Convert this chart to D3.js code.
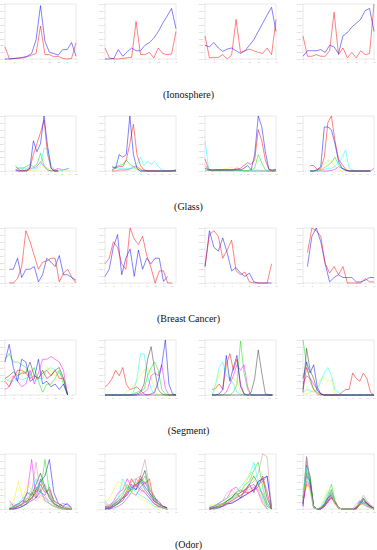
<!DOCTYPE html>
<html>
<head>
<meta charset="utf-8">
<script src="https://cdn.jsdelivr.net/npm/d3@7"></script>
<style>
  body { margin: 0; background: #fff; }
  svg { display: block; }
</style>
</head>
<body>
<svg id="fig" width="377" height="550"></svg>
<script>
const captions = ["(Ionosphere)", "(Glass)", "(Breast Cancer)", "(Segment)", "(Odor)"]
const yTicks = [0, 0.125, 0.25, 0.375, 0.5, 0.625, 0.75, 0.875, 1]

// ---- Ionosphere: 4 panels, 2 classes
const ionoRed = [
  [0.22, 0.0, 0.01, 0.01, 0.02, 0.04, 0.07, 0.1, 0.6, 0.08, 0.08, 0.04, 0.05, 0.01, 0.0, 0.01, 0.3],
  [0.2, 0.02, 0.0, 0.0, 0.01, 0.02, 0.03, 0.68, 0.08, 0.08, 0.12, 0.02, 0.2, 0.1, 0.08, 0.09, 0.5],
  [0.42, 0.02, 0.03, 0.03, 0.08, 0.0, 0.07, 0.72, 0.12, 0.15, 0.18, 0.15, 0.12, 0.1, 0.2, 0.08, 0.72],
  [0.42, 0.05, 0.05, 0.08, 0.05, 0.05, 0.15, 0.85, 0.08, 0.2, 0.02, 0.12, 0.02, 0.15, 0.08, 0.1, 1.0]
]
const ionoBlue = [
  [0, 0, 0.01, 0.02, 0.03, 0.05, 0.1, 0.35, 0.97, 0.32, 0.12, 0.1, 0.07, 0.17, 0.17, 0.3, 0.05],
  [0, 0, 0.01, 0.17, 0.05, 0.13, 0.2, 0.15, 0.15, 0.25, 0.3, 0.38, 0.5, 0.65, 0.78, 0.92, 0.55],
  [0.25, 0.22, 0.3, 0.2, 0.14, 0.18, 0.2, 0.15, 0.1, 0.15, 0.25, 0.35, 0.5, 0.65, 0.8, 0.94, 0.5],
  [0.05, 0.15, 0.15, 0.15, 0.17, 0.12, 0.25, 0.22, 0.1, 0.42, 0.48, 0.58, 0.65, 0.72, 0.88, 0.92, 0.5]
]

// ---- Glass: 6 classes
const glassBlue = [
  [null, null, null, 0.02, 0, 0, 0, 0.05, 0.55, 0.35, 0.5, 1.0, 0.45, 0.05, 0, 0, null, null, null, null, null],
  [null, null, 0.08, 0.05, 0.3, 0.25, 0.3, 1.0, 0.3, 0.05, 0, 0, 0, 0, 0, 0, 0, 0, 0, 0, 0.02],
  [0.05, 0.02, 0.02, 0.02, 0.02, 0.02, 0.02, 0.02, 0.02, 0.02, 0.02, 0.05, 0.1, 0.02, 0.3, 1.0, 0.8, 0.35, 0.03, 0.02, 0.03],
  [null, null, 0, 0, 0.02, 0.08, 0.8, 0.8, 0.75, 0.5, 0.18, 0.05, 0.01, 0, 0, 0, 0, 0, 0, 0, null]
]
const glassRed = [
  [null, null, null, 0.08, 0.02, 0, 0.02, 0.05, 0.3, 0.5, 0.7, 0.92, 0.3, 0.05, 0, 0, null, null, null, null, null],
  [null, null, 0.02, 0.06, 0.08, 0.08, 0.2, 0.5, 0.85, 0.3, 0.1, 0.02, 0, 0, 0, 0, 0, 0, 0, 0, 0],
  [0.22, 0.03, 0.02, 0.02, 0.02, 0.02, 0.02, 0.02, 0.02, 0.03, 0.05, 0.1, 0.15, 0.12, 0.2, 0.75, 0.55, 0.2, 0.03, 0, 0.02],
  [null, null, 0.1, 0.1, 0.03, 0.05, 0.25, 0.88, 1.0, 0.55, 0.22, 0.12, 0.03, 0, 0, 0, 0, 0, 0, 0, null]
]
const glassGreen = [
  [null, null, null, 0.02, 0.06, 0.05, 0.08, 0.12, 0.08, 0.12, 0.32, 0.1, 0.02, 0, 0, 0, null, null, null, null, null],
  [null, null, 0.05, 0.08, 0.1, 0.12, 0.2, 0.12, 0.08, 0.03, 0, 0, 0, 0, 0, 0, 0, 0, 0, 0, 0],
  [0.01, 0.01, 0.01, 0.01, 0.01, 0.01, 0.01, 0.01, 0.01, 0.01, 0.01, 0.01, 0.01, 0.02, 0.05, 0.3, 0.15, 0.02, 0, 0, 0],
  [null, null, 0, 0, 0.02, 0.02, 0.06, 0.1, 0.15, 0.25, 0.12, 0.05, 0.02, 0, 0, 0, 0, 0, 0, 0, null]
]
const glassCyan = [
  [null, null, null, 0.1, 0.04, 0.06, 0.04, 0.08, 0.04, 0.05, 0.1, 0.42, 0.4, 0.1, 0.02, 0.02, 0.01, 0.03, 0.05, null, null],
  [null, null, 0, 0.05, 0.05, 0.04, 0.05, 0.04, 0.05, 0.12, 0.25, 0.1, 0.18, 0.12, 0.18, 0.08, 0.02, 0, 0, 0, 0],
  [0.55, 0.05, 0, 0, 0, 0, 0, 0, 0, 0, 0, 0, 0, 0, 0.01, 0.02, 0, 0, 0, 0, 0],
  [null, null, 0, 0, 0.02, 0.02, 0.03, 0.05, 0.05, 0.08, 0.15, 0.25, 0.38, 0.05, 0.02, 0, 0, 0, 0, 0, null]
]
const glassMagenta = [
  [null, null, null, 0, 0, 0.02, 0, 0.03, 0.06, 0.08, 0.17, 0.08, 0.02, 0, 0.02, 0.05, 0.02, 0.03, 0.05, null, null],
  [null, null, 0, 0, 0.02, 0.02, 0.02, 0.04, 0.08, 0.08, 0.03, 0, 0, 0, 0, 0, 0, 0, 0, 0, 0],
  [0.1, 0.02, 0, 0.02, 0.02, 0.02, 0.02, 0.02, 0.02, 0.06, 0.02, 0, 0, 0, 0, 0, 0, 0, 0, 0, 0],
  [null, null, 0, 0, 0, 0, 0, 0, 0.01, 0.03, 0.08, 0.05, 0.02, 0, 0, 0, 0, 0, 0, 0, 0.05]
]
const glassYellow = [
  [null, null, null, 0, 0, 0, 0, 0.01, 0.02, 0.02, 0.06, 0.1, 0.05, 0.02, 0, 0, 0, 0, 0, null, null],
  [null, null, 0, 0, 0, 0, 0.02, 0.03, 0.05, 0.06, 0.04, 0.02, 0, 0, 0, 0, 0, 0.02, 0, 0.02, 0.02],
  [0.02, 0.01, 0.01, 0.01, 0.02, 0.03, 0.04, 0.06, 0.05, 0.02, 0, 0, 0, 0, 0, 0, 0, 0, 0, 0, 0],
  [null, null, 0, 0, 0, 0.05, 0.12, 0.2, 0.18, 0.08, 0.03, 0, 0, 0, 0, 0, 0, 0, 0, 0, null]
]

// ---- Breast Cancer: 2 classes
const bcRed = [
  [null, 0, 0, 0.08, 0.3, 0.95, 0.75, 0.5, 0.25, 0.38, 0.4, 0.45, 0.45, 0.02, 0.18, 0.25, 0.1, 0],
  [0.35, 0.45, 0.75, 0.65, 0.35, 0.25, 1.0, 0.8, 0.7, 0.85, 0.5, 0.28, 0, 0.22, 0.22, 0, 0, null],
  [0.3, 0.88, 0.95, 0.85, 0.45, 0.6, 0.78, 0.22, 0.15, 0.2, 0.02, 0, 0, 0, 0, 0.35, null],
  [null, 0.55, 1.0, 0.95, 0.85, 0.35, 0.18, 0.3, 0.15, 0.3, 0, 0, 0, 0, 0.08, 0.02, 0.02]
]
const bcBlue = [
  [null, 0.25, 0.25, 0.45, 0.1, 0.25, 0.25, 0.3, 0.02, 0.15, 0.45, 0.38, 0.3, 0.5, 0.15, 0.15, 0.1, 0.05],
  [0.12, 0.25, 0.65, 0.88, 0.15, 0.45, 0.62, 0.12, 0.6, 0.25, 0.45, 0.35, 0.45, 0.45, 0.03, 0.12, null, null],
  [0.3, 0.95, 0.65, 0.58, 0.82, 0.55, 0.22, 0.28, 0.18, 0.12, 0.18, 0.02, 0, 0, 0, 0, null],
  [null, 0.3, 0.85, 1.0, 0.75, 0.35, 0.02, 0.1, 0.15, 0.1, 0.1, 0.1, 0.02, 0.02, 0.05, 0.1, 0.1]
]

// ---- Segment: 7 classes
const segRed = [
  [0.25, 0.15, 0.3, 0.45, 0.45, 0.4, 0.3, 0.35, 0.3, 0.4, 0.45, 0.35, 0.45, 0.3, 0.3, 0, null, null],
  [0.15, 0.2, 0.3, 0.45, 0.35, 0.5, 0.2, 0.1, 0.12, 0.15, 0.08, 0.02, 0, 0, 0, 0, 0, 0, 0, 0, 0],
  [null, null, 0.1, 0.12, 0.2, 0.1, 0.55, 0.75, 0.45, 0.65, 0.2, 0.02, 0, 0, 0, 0, 0, 0, 0, 0, null],
  [0.1, 0.5, 0.3, 0.1, 0.02, 0, 0, 0, 0, 0, 0, 0.05, 0.1, 0.1, 0.4, 0.3, 0.25, 0.4, 0.3, 0.05, 0]
]
const segYellow = [
  [0.2, 0.3, 0.35, 0.4, 0.35, 0.45, 0.4, 0.3, 0.3, 0.35, 0.5, 0.45, 0.35, 0.4, 0.35, 0, null, null],
  [0, 0, 0, 0, 0, 0, 0.05, 0.1, 0.15, 0.25, 0.35, 0.45, 0.5, 0.3, 0.1, 0, 0, 0, 0, 0, 0],
  [null, null, 0, 0.1, 0.4, 0.45, 0.5, 0.3, 0.3, 0.25, 0.05, 0, 0, 0, 0, 0, 0, 0, 0, 0, null],
  [0.05, 0.02, 0.05, 0.1, 0.15, 0.3, 0.3, 0.25, 0.28, 0.02, 0, 0, 0, 0, 0, 0, 0, 0, 0, 0, 0]
]
const segCyan = [
  [0.3, 0.25, 0.25, 0.3, 0.28, 0.3, 0.35, 0.25, 0.3, 0.3, 0.45, 0.5, 0.45, 0.4, 0.3, 0, null, null],
  [0, 0, 0, 0, 0, 0, 0, 0, 0.05, 0.3, 0.75, 0.75, 0.35, 0.1, 0.02, 0, 0, 0, 0, 0, 0],
  [null, null, 0, 0.2, 0.5, 0.6, 0.35, 0.3, 0.2, 0.05, 0.02, 0, 0, 0, 0, 0, 0, 0, 0, 0, null],
  [0.05, 0.1, 0.08, 0.05, 0.1, 0.25, 0.4, 0.5, 0.35, 0.1, 0.05, 0, 0, 0, 0, 0, 0, 0, 0, 0, 0]
]
const segMagenta = [
  [0.1, 0.15, 0.35, 0.25, 0.15, 0.2, 0.45, 0.2, 0.4, 0.65, 0.65, 0.7, 0.65, 0.6, 0.45, 0, null, null],
  [0, 0, 0, 0, 0, 0, 0, 0, 0, 0, 0.02, 0.05, 0.1, 0.35, 0.4, 0.35, 0.55, 0.12, 0, 0, 0],
  [null, null, 0, 0, 0, 0, 0.05, 0.2, 0.35, 0.55, 0.45, 0.55, 0.15, 0, 0, 0, 0, 0, 0, 0, null],
  [0.2, 0.35, 0.3, 0.2, 0.1, 0.02, 0, 0, 0, 0, 0, 0, 0, 0, 0, 0, 0, 0, 0, 0, 0]
]
const segGreen = [
  [0.65, 0.75, 0.6, 0.6, 0.55, 0.5, 0.35, 0.5, 0.25, 0.05, 0.2, 0.2, 0.3, 0.45, 0.2, 0, null, null],
  [0, 0, 0, 0, 0, 0, 0, 0, 0.02, 0.05, 0.08, 0.1, 0.35, 0.5, 0.6, 0.45, 0.1, 0.02, 0, 0, 0],
  [null, null, 0, 0, 0, 0, 0, 0, 0.05, 0.2, 0.98, 0.4, 0.1, 0, 0, 0, 0, 0, 0, 0, null],
  [1.0, 0.55, 0.25, 0.1, 0.05, 0.02, 0, 0, 0, 0, 0, 0, 0, 0, 0, 0, 0, 0, 0, 0, 0]
]
const segBlue = [
  [0.6, 0.92, 0.5, 0.25, 0.65, 0.6, 0.25, 0.3, 0.65, 0.2, 0.25, 0.15, 0.2, 0.1, 0.2, 0, null, null],
  [0, 0, 0, 0, 0, 0, 0, 0, 0, 0, 0, 0, 0, 0.02, 0.05, 0.25, 0.55, 1.0, 0.2, 0.02, 0],
  [null, null, 0, 0, 0.02, 0.1, 0.72, 0.25, 0.5, 0.72, 0.15, 0.02, 0, 0, 0, 0, 0, 0, 0, 0, null],
  [0.3, 0.6, 0.4, 0.55, 0.15, 0.02, 0, 0, 0, 0, 0, 0, 0, 0, 0, 0, 0, 0, 0, 0, 0]
]
const segBlack = [
  [0.3, 0.35, 0.42, 0.35, 0.4, 0.4, 0.6, 0.35, 0.3, 0.45, 0.3, 0.35, 0.45, 0.5, 0.3, 0, null, null],
  [0, 0, 0, 0, 0, 0, 0, 0, 0, 0.02, 0.05, 0.2, 0.65, 0.88, 0.45, 0.1, 0.02, 0, 0, 0, 0],
  [null, null, 0, 0, 0, 0, 0, 0, 0, 0, 0, 0, 0, 0.05, 0.3, 0.82, 0.4, 0.02, 0, 0, null],
  [0.05, 0.85, 0.45, 0.3, 0.08, 0.02, 0, 0, 0, 0, 0, 0, 0, 0, 0, 0, 0, 0, 0, 0, 0]
]

// ---- Odor: 12 classes
const odorYellow = [
  [null, 0.05, 0.15, 0.5, 0.2, 0.45, 0.35, 0.25, 0.2, 0.15, 0.1, 0.05, 0.02, 0, 0, 0, null],
  [0.1, 0.2, 0.35, 0.5, 0.45, 0.35, 0.3, 0.25, 0.2, 0.15, 0.1, 0.05, 0.03, 0.02, 0, null, null],
  [null, 0.05, 0.1, 0.05, 0.1, 0.2, 0.25, 0.3, 0.35, 0.4, 0.65, 0.55, 0.4, 0.1, 0, null, null],
  [0.25, 0.55, 0.3, 0.02, 0, 0.05, 0.2, 0.35, 0.3, 0.1, 0.02, 0, 0, 0, 0, 0.05, 0.1, 0.08, 0.03, 0.02, 0]
]
const odorCyan = [
  [null, 0.1, 0.05, 0.1, 0.2, 0.25, 0.35, 0.55, 0.3, 0.2, 0.1, 0.05, 0.02, 0, 0.05, 0, null],
  [0.15, 0.05, 0.1, 0.2, 0.55, 0.35, 0.4, 0.3, 0.25, 0.2, 0.15, 0.05, 0.03, 0.02, 0, null, null],
  [null, 0.05, 0.05, 0.1, 0.15, 0.2, 0.25, 0.3, 0.4, 0.5, 0.6, 0.85, 0.5, 0.2, 0, null, null],
  [0.3, 0.75, 0.35, 0.02, 0, 0.03, 0.15, 0.3, 0.3, 0.1, 0.02, 0, 0, 0, 0, 0.05, 0.15, 0.1, 0.05, 0.02, 0]
]
const odorPink = [
  [null, 0.05, 0.1, 0.05, 0.1, 0.15, 0.2, 0.15, 0.25, 0.2, 0.15, 0.1, 0.05, 0.02, 0, 0, null],
  [0.1, 0.05, 0.1, 0.2, 0.15, 0.3, 0.35, 0.45, 0.3, 0.35, 0.25, 0.1, 0.05, 0.02, 0, null, null],
  [null, 0.05, 0.05, 0.1, 0.15, 0.3, 0.35, 0.25, 0.3, 0.35, 0.3, 0.4, 0.35, 0.15, 0, null, null],
  [0.2, 0.6, 0.35, 0.02, 0, 0.03, 0.1, 0.22, 0.2, 0.08, 0.02, 0, 0, 0, 0, 0.1, 0.15, 0.1, 0.05, 0.02, 0]
]
const odorGray = [
  [null, 0, 0.02, 0.05, 0.08, 0.2, 0.15, 0.35, 0.3, 0.45, 0.2, 0.08, 0.03, 0, 0, 0, null],
  [0.05, 0.08, 0.12, 0.2, 0.3, 0.4, 0.35, 0.5, 0.4, 0.3, 0.2, 0.1, 0.05, 0.02, 0, null, null],
  [null, 0, 0.02, 0.05, 0.1, 0.12, 0.18, 0.22, 0.3, 0.35, 0.35, 0.4, 0.35, 0.3, 0.1, 0, null],
  [0.15, 0.95, 0.5, 0.02, 0, 0, 0.04, 0.18, 0.3, 0.1, 0.02, 0, 0, 0, 0, 0.02, 0.1, 0.2, 0.1, 0.05, 0]
]
const odorRed = [
  [null, 0, 0.02, 0.05, 0.1, 0.15, 0.2, 0.3, 0.45, 0.3, 0.35, 0.15, 0.1, 0.05, 0.02, 0, null],
  [0.05, 0.02, 0.08, 0.15, 0.2, 0.35, 0.55, 0.4, 0.6, 0.45, 0.55, 0.15, 0.1, 0.05, 0.02, null, null],
  [null, 0, 0.02, 0.05, 0.08, 0.1, 0.15, 0.2, 0.25, 0.3, 0.3, 0.35, 0.4, 0.6, 0.3, 0, null],
  [0.15, 0.45, 0.4, 0.05, 0, 0, 0.05, 0.15, 0.2, 0.15, 0.03, 0, 0, 0, 0, 0, 0.08, 0.1, 0.12, 0.05, 0]
]
const odorMagenta = [
  [null, 0.15, 0.05, 0.1, 0.15, 0.3, 0.9, 0.2, 0.35, 0.15, 0.1, 0.05, 0.02, 0, 0, 0, null],
  [0.02, 0.05, 0.15, 0.3, 0.35, 0.55, 0.4, 0.45, 0.35, 0.3, 0.2, 0.1, 0.05, 0.02, 0, null, null],
  [null, 0.02, 0.05, 0.1, 0.15, 0.2, 0.35, 0.4, 0.3, 0.35, 0.4, 0.45, 0.3, 0.1, 0, null, null],
  [0.1, 0.5, 0.45, 0.03, 0, 0, 0.05, 0.12, 0.2, 0.12, 0.02, 0, 0, 0, 0, 0.02, 0.15, 0.08, 0.05, 0.02, 0]
]
const odorTan = [
  [null, 0, 0.02, 0.05, 0.1, 0.2, 0.3, 0.85, 0.3, 0.25, 0.1, 0.05, 0.02, 0, 0, 0, null],
  [0, 0.02, 0.05, 0.1, 0.2, 0.3, 0.5, 0.55, 0.6, 0.9, 0.4, 0.2, 0.1, 0.05, 0, null, null],
  [null, 0, 0.02, 0.05, 0.05, 0.1, 0.15, 0.2, 0.25, 0.3, 0.45, 0.5, 0.65, 1.0, 0.95, 0, null],
  [0.1, 0.9, 0.4, 0.03, 0, 0, 0.05, 0.15, 0.25, 0.1, 0.02, 0, 0, 0, 0, 0, 0.1, 0.25, 0.15, 0.08, 0.03]
]
const odorDarkGreen = [
  [null, 0.02, 0.05, 0.08, 0.15, 0.12, 0.3, 0.2, 0.55, 0.35, 0.25, 0.1, 0.05, 0.02, 0, 0, null],
  [0, 0.03, 0.08, 0.12, 0.2, 0.3, 0.45, 0.35, 0.5, 0.35, 0.25, 0.15, 0.05, 0.02, 0, null, null],
  [null, 0.02, 0.05, 0.08, 0.1, 0.15, 0.2, 0.3, 0.35, 0.3, 0.45, 0.6, 0.45, 0.25, 0.05, 0, null],
  [0.2, 0.65, 0.5, 0.04, 0, 0.02, 0.08, 0.2, 0.35, 0.12, 0.02, 0, 0, 0, 0, 0.02, 0.1, 0.12, 0.08, 0.03, 0]
]
const odorGreen = [
  [null, 0, 0.05, 0.1, 0.05, 0.15, 0.25, 0.4, 0.3, 0.9, 0.3, 0.1, 0.05, 0.02, 0, 0, null],
  [0.02, 0.05, 0.1, 0.15, 0.25, 0.45, 0.3, 0.55, 0.45, 0.6, 0.3, 0.2, 0.08, 0.03, 0, null, null],
  [null, 0.02, 0.02, 0.05, 0.1, 0.15, 0.2, 0.25, 0.3, 0.45, 0.5, 0.7, 0.85, 0.4, 0.1, 0, null],
  [0.2, 0.7, 0.55, 0.05, 0, 0.02, 0.1, 0.25, 0.45, 0.15, 0.02, 0, 0, 0, 0, 0.02, 0.12, 0.2, 0.08, 0.03, 0]
]
const odorPurple = [
  [null, 0, 0, 0.02, 0.05, 0.1, 0.15, 0.2, 0.3, 0.25, 0.4, 0.15, 0.05, 0.1, 0.08, 0.02, null],
  [0, 0, 0.02, 0.05, 0.1, 0.2, 0.3, 0.25, 0.4, 0.5, 0.3, 0.15, 0.1, 0.05, 0.02, null, null],
  [null, 0, 0, 0.02, 0.05, 0.08, 0.12, 0.15, 0.2, 0.25, 0.3, 0.35, 0.45, 0.5, 0.6, 0.05, null],
  [0.05, 0.95, 0.45, 0.03, 0, 0, 0.05, 0.12, 0.3, 0.12, 0.02, 0, 0, 0, 0, 0.03, 0.12, 0.2, 0.1, 0.04, 0]
]
const odorBlack = [
  [null, 0, 0.02, 0.05, 0.1, 0.3, 0.25, 0.45, 0.65, 0.4, 0.2, 0.1, 0.05, 0.02, 0, 0, null],
  [0, 0.02, 0.05, 0.1, 0.15, 0.3, 0.35, 0.45, 0.5, 0.7, 0.35, 0.25, 0.1, 0.05, 0.02, null, null],
  [null, 0, 0.02, 0.05, 0.05, 0.15, 0.2, 0.3, 0.2, 0.35, 0.45, 0.3, 0.5, 0.55, 0.2, 0, null],
  [0.05, 0.8, 0.6, 0.05, 0, 0, 0.05, 0.15, 0.22, 0.12, 0.02, 0, 0, 0, 0, 0, 0.08, 0.18, 0.12, 0.05, 0]
]
const odorBlue = [
  [null, 0, 0, 0.02, 0.05, 0.1, 0.2, 0.35, 0.5, 0.6, 0.9, 0.3, 0.1, 0.05, 0.1, 0.02, null],
  [0.02, 0, 0.05, 0.1, 0.2, 0.25, 0.4, 0.35, 0.55, 0.4, 0.3, 0.2, 0.15, 0.05, 0.02, null, null],
  [null, 0, 0.02, 0.02, 0.05, 0.1, 0.1, 0.15, 0.2, 0.25, 0.3, 0.35, 0.5, 0.55, 0.6, 0, null],
  [0.1, 0.6, 0.5, 0.02, 0, 0.02, 0.08, 0.2, 0.25, 0.1, 0.02, 0, 0, 0, 0, 0.02, 0.1, 0.15, 0.1, 0.05, 0.02]
]

// rows of the figure, series in drawing order
let rows = [
  { series: [ionoRed, ionoBlue], colors: ['#ff0000', '#0000ff'] },
  { series: [glassYellow, glassMagenta, glassCyan, glassGreen, glassRed, glassBlue],
    colors: ['#f0f000', '#ff00ff', '#00ffff', '#00e000', '#ff0000', '#0000ff'] },
  { series: [bcBlue, bcRed], colors: ['#0000ff', '#ff0000'] },
  { series: [segRed, segYellow, segCyan, segMagenta, segGreen, segBlue, segBlack],
    colors: ['#ff0000', '#f0f000', '#00ffff', '#ff00ff', '#00e000', '#0000ff', '#333333'] },
  { series: [odorBlack, odorPurple, odorGray, odorDarkGreen, odorBlue, odorRed, odorTan, odorPink, odorGreen, odorMagenta, odorCyan, odorYellow],
    colors: ['#222222', '#8040ff', '#909090', '#008040', '#0000ff', '#ff0000', '#c09090', '#ff80c0', '#00e000', '#ff00ff', '#00ffff', '#f0f000'] }
]

let colX = [5, 105, 205, 303]
let rowY = [4, 116, 228, 340, 454]
let pw = 71, ph = 55

let svg = d3.select('#fig')

rows.forEach((row, r) => {
  colX.forEach((x0, c) => {
    let n = row.series[0][c].length
    let x = d3.scaleLinear().domain([0, n - 1]).range([0, pw])
    let y = d3.scaleLinear().domain([0, 1]).range([ph, 0])

    let g = svg.append('g')
      .attr('transform', 'translate(' + x0 + ',' + rowY[r] + ')')

    g.append('rect')
      .attr('width', pw)
      .attr('height', ph)
      .attr('fill', 'none')
      .attr('stroke', '#d4d4d4')
      .attr('stroke-width', 0.5)

    let yAxis = g.append('g')
      .call(d3.axisLeft(y).tickValues(yTicks).tickSize(1.2).tickPadding(0.8).tickFormat(d3.format('.2f')))
    let xAxis = g.append('g')
      .attr('transform', 'translate(0,' + ph + ')')
      .call(d3.axisBottom(x).ticks(10).tickSize(1.2).tickPadding(0.8))

    ;[xAxis, yAxis].forEach(a => {
      a.select('.domain').remove()
      a.selectAll('line').attr('stroke', '#bbb').attr('stroke-width', 0.4)
      a.selectAll('text').attr('font-size', 2.2).attr('fill', '#aaa').attr('font-family', 'Liberation Sans')
    })

    let line = d3.line()
      .defined(d => d != null)
      .x((d, i) => x(i))
      .y(d => y(d))

    row.series.forEach((s, k) => {
      g.append('path')
        .datum(s[c])
        .attr('d', line)
        .attr('fill', 'none')
        .attr('stroke', row.colors[k])
        .attr('stroke-width', 0.8)
        .attr('stroke-opacity', 0.62)
        .attr('stroke-linejoin', 'round')
    })
  })

  svg.append('text')
    .attr('x', 188.5)
    .attr('y', rowY[r] + 93.5)
    .attr('text-anchor', 'middle')
    .attr('font-family', 'Liberation Serif')
    .attr('font-size', 10)
    .attr('fill', '#111')
    .text(captions[r])
})
</script>
</body>
</html>
